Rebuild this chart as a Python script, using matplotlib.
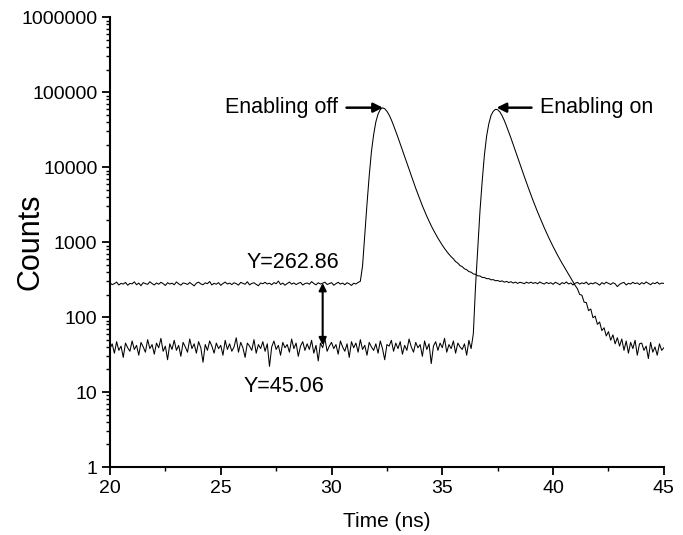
import numpy as np
import matplotlib
matplotlib.use("Agg")
import matplotlib.pyplot as plt
from matplotlib.ticker import LogLocator, FuncFormatter, MultipleLocator, NullFormatter

plt.rcParams["font.family"] = ["Liberation Sans", "DejaVu Sans"]

# time axis: one channel every 0.1 ns from 20 ns to 45 ns
T_START = 20.0
T_STEP = 0.1

counts_off = [
    286, 271, 279, 293, 268, 282, 275, 290, 266, 281,
    277, 295, 270, 284, 262, 288, 279, 273, 296, 280,
    268, 285, 274, 291, 279, 264, 287, 276, 283, 270,
    294, 278, 266, 285, 281, 272, 289, 275, 261, 283,
    292, 277, 270, 286, 279, 298, 268, 282, 274, 288,
    265, 280, 293, 276, 284, 271, 287, 279, 267, 290,
    282, 274, 296, 269, 281, 287, 273, 262, 285, 278,
    291, 276, 283, 270, 288, 279, 302, 272, 284, 266,
    280, 293, 275, 286, 271, 282, 290, 268, 279, 285,
    274, 297, 281, 269, 287, 276, 283, 292, 272, 280,
    288, 266, 279, 291, 275, 284, 270, 287, 278, 264,
    283, 276, 290, 300, 480, 1250, 3200, 7600, 16000, 27000,
    40000, 51000, 58500, 61700, 60000, 55600, 49500, 42700, 35900, 29900,
    24800, 20400, 16800, 13800, 11350, 9330, 7670, 6310, 5220, 4350,
    3630, 3050, 2590, 2210, 1905, 1650, 1445, 1275, 1130, 1010,
    908, 822, 750, 689, 637, 598, 549, 524, 486, 470,
    440, 429, 404, 397, 376, 372, 355, 353, 338, 337,
    325, 326, 314, 316, 305, 308, 298, 304, 292, 299,
    289, 296, 284, 293, 281, 291, 286, 279, 292, 283,
    292, 281, 289, 278, 294, 283, 276, 290, 280, 287,
    274, 291, 282, 270, 288, 279, 294, 276, 285, 268,
    283, 290, 275, 286, 279, 293, 271, 284, 277, 289,
    280, 266, 288, 276, 292, 281, 272, 287, 278, 255,
    273, 284, 290, 268, 282, 276, 291, 279, 286, 271,
    288, 277, 294, 282, 270, 286, 279, 292, 275, 284,
    281,
]

counts_on = [
    38, 44, 33, 47, 36, 41, 29, 45, 39, 35,
    48, 37, 42, 31, 46, 40, 34, 50, 38, 43,
    32, 45, 39, 52, 35, 41, 27, 44, 37, 49,
    36, 42, 30, 46, 40, 34, 51, 38, 44, 33,
    47, 39, 25, 43, 36, 48, 41, 33, 45, 38,
    42, 31, 49, 37, 44, 35, 40, 53, 34, 46,
    39, 29, 45, 41, 36, 50, 33, 43, 38, 47,
    35, 44, 22, 40, 48, 37, 42, 31, 46, 39,
    43, 34, 51, 38, 45, 30, 41, 47, 36, 44,
    37, 49, 33, 42, 26, 45, 39, 52, 35, 41,
    46, 38, 43, 32, 48, 40, 35, 44, 29, 47,
    39, 45, 34, 50, 37, 42, 31, 46, 40, 36,
    44, 33, 48, 38, 27, 43, 41, 49, 35, 45,
    38, 47, 32, 42, 36, 51, 40, 34, 46, 39,
    43, 30, 48, 37, 44, 24, 41, 47, 36, 45,
    39, 52, 34, 43, 38, 48, 33, 45, 40, 37,
    44, 31, 49, 38, 60, 260, 800, 2600, 6500, 14500,
    26000, 38000, 49000, 55500, 59000, 58200, 54300, 48400, 41700, 35100,
    29200, 24300, 19950, 16400, 13500, 11100, 9120, 7500, 6190, 5130,
    4270, 3560, 2990, 2520, 2140, 1820, 1555, 1337, 1153, 1000,
    871, 762, 670, 592, 525, 468, 417, 372, 331, 295,
    263, 238, 200, 196, 158, 156, 122, 128, 98, 103,
    80, 86, 66, 72, 56, 64, 49, 58, 44, 53,
    41, 51, 36, 48, 33, 46, 38, 49, 31, 44,
    45, 36, 41, 28, 46, 34, 40, 31, 44, 36,
    39,
]

# annotation values
level_off = 262.86
level_on = 45.06
arrow_time = 29.6
peak_off_time = 32.32
peak_on_time = 37.45
peak_counts = 62000


def main() -> None:
    t_off = T_START + T_STEP * np.arange(len(counts_off))
    t_on = T_START + T_STEP * np.arange(len(counts_on))

    fig = plt.figure(figsize=(6.83, 5.35), dpi=100)
    ax = fig.add_axes([0.161, 0.127, 0.811, 0.841])

    ax.plot(t_off, counts_off, color="black", linewidth=0.75)
    ax.plot(t_on, counts_on, color="black", linewidth=0.75)

    ax.set_yscale("log")
    ax.set_xlim(20, 45)
    ax.set_ylim(1, 1e6)

    ax.yaxis.set_major_locator(LogLocator(base=10, numticks=10))
    ax.yaxis.set_minor_locator(LogLocator(base=10, subs=np.arange(2, 10), numticks=20))
    ax.yaxis.set_major_formatter(FuncFormatter(lambda v, p: f"{v:.0f}"))
    ax.yaxis.set_minor_formatter(NullFormatter())
    ax.xaxis.set_major_locator(MultipleLocator(5))
    ax.xaxis.set_minor_locator(MultipleLocator(2.5))

    for side in ("top", "right"):
        ax.spines[side].set_visible(False)
    for side in ("left", "bottom"):
        ax.spines[side].set_linewidth(1.5)

    ax.tick_params(which="major", direction="out", length=6, width=1.3,
                   labelsize=14, pad=3)
    ax.tick_params(which="minor", direction="out", length=3, width=1.0)

    ax.set_xlabel("Time (ns)", fontsize=15)
    ax.xaxis.set_label_coords(0.5, -0.122)
    ax.xaxis.label.set_va("center")
    ax.set_ylabel("Counts", fontsize=22)
    ax.yaxis.set_label_coords(-0.143, 0.5)
    ax.yaxis.label.set_va("center")

    # peak arrows
    ax.annotate(
        "Enabling off",
        xy=(peak_off_time, peak_counts),
        xytext=(30.3, peak_counts),
        ha="right",
        va="center",
        fontsize=15.5,
        arrowprops=dict(arrowstyle="-|>", color="black", lw=1.8,
                        mutation_scale=14, shrinkA=4, shrinkB=0),
    )
    ax.annotate(
        "Enabling on",
        xy=(peak_on_time, peak_counts),
        xytext=(39.4, peak_counts),
        ha="left",
        va="center",
        fontsize=15.5,
        arrowprops=dict(arrowstyle="-|>", color="black", lw=1.8,
                        mutation_scale=14, shrinkA=4, shrinkB=0),
    )

    # gap between the two background levels
    ax.annotate(
        "",
        xy=(arrow_time, 42),
        xytext=(arrow_time, 285),
        arrowprops=dict(arrowstyle="<|-|>", color="black", lw=1.5,
                        mutation_scale=11, shrinkA=0, shrinkB=0),
    )
    ax.text(28.26, 540, f"Y={level_off:.2f}", ha="center", va="center", fontsize=15.5)
    ax.text(27.85, 11.7, f"Y={level_on:.2f}", ha="center", va="center", fontsize=15.5)

    fig.savefig("out.png", dpi=100)
    plt.close(fig)


if __name__ == "__main__":
    main()
